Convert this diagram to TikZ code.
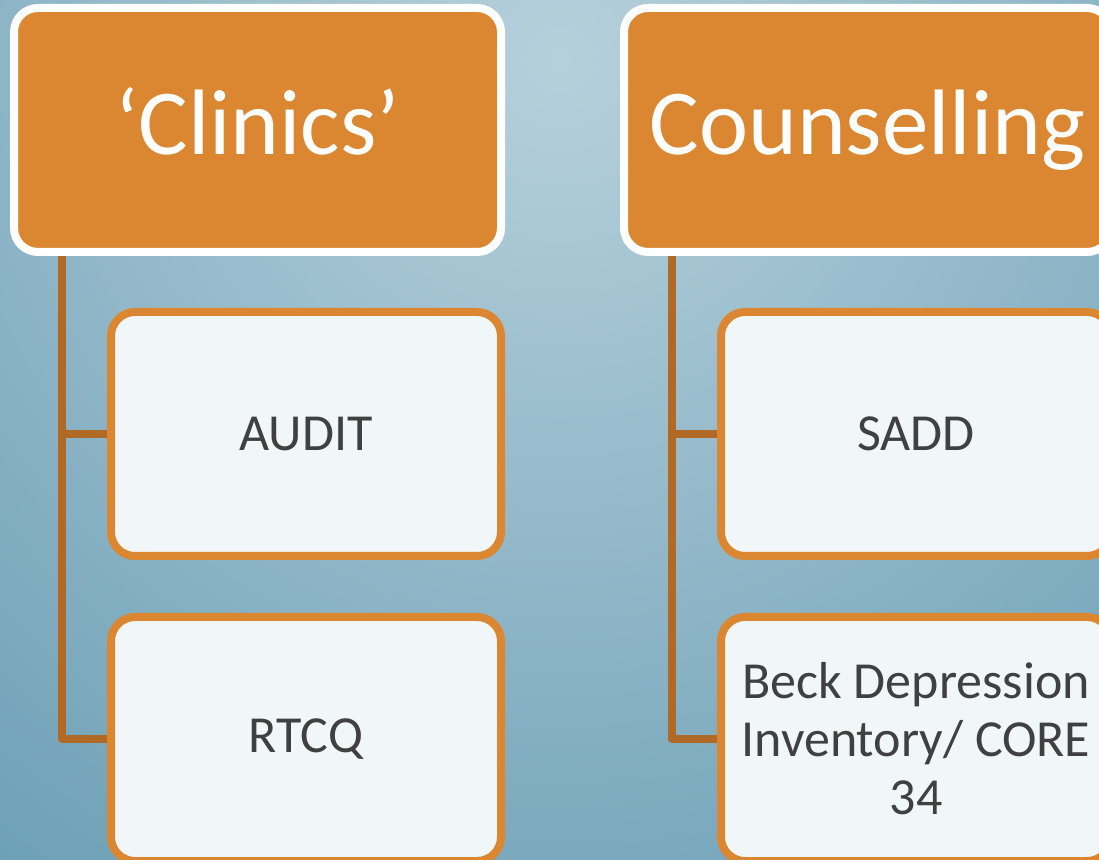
\documentclass[tikz,border=0pt]{standalone}
\usepackage{fontspec}
\setmainfont{Carlito}
\definecolor{bglight}{HTML}{B6D0DB}
\definecolor{bgdark}{HTML}{6C9FB6}
\definecolor{headorange}{HTML}{DB8731}
\definecolor{stemorange}{HTML}{B06A25}
\definecolor{cardfill}{HTML}{F1F6F9}
\definecolor{cardtext}{HTML}{404040}
\begin{document}
\begin{tikzpicture}[x=1pt,y=1pt,line join=round,
  head/.style={draw=white,fill=headorange,line width=8pt,rounded corners=24pt,
    minimum width=487pt,minimum height=244pt,outer sep=4pt,text=white,
    text height=70pt,text depth=20pt,
    font=\fontsize{93}{100}\selectfont},
  card/.style={draw=headorange,fill=cardfill,line width=8pt,rounded corners=24pt,
    minimum width=390pt,minimum height=244pt,outer sep=4pt,text=cardtext,
    align=center,font=\fontsize{52}{58}\selectfont},
  stem/.style={draw=stemorange,line width=8pt}]
  \useasboundingbox (0,0) rectangle (1099,859);
  \clip (0,0) rectangle (1099,859);
  % backdrop
  \shade[inner color=bglight,outer color=bgdark] (560,800) circle (1000);

  % left column
  \node[head] (clinics) at (257.5,729) {‘Clinics’};
  \node[card] (audit) at (306,425) {AUDIT};
  \node[card] (rtcq) at (306,120) {RTCQ};
  % right column
  \node[head] (counsel) at (867.5,729) {Counselling};
  \node[card] (sadd) at (916,425) {SADD};
  \node[card] (beck) at (916,120) {Beck Depression\\Inventory/ CORE\\34};

  % connectors
  \draw[stem] ([xshift=52pt]clinics.south west) coordinate (ltrunk) |- (rtcq.west);
  \draw[stem] (audit.west) -- (audit.west -| ltrunk);
  \draw[stem] ([xshift=52pt]counsel.south west) coordinate (rtrunk) |- (beck.west);
  \draw[stem] (sadd.west) -- (sadd.west -| rtrunk);
\end{tikzpicture}
\end{document}
